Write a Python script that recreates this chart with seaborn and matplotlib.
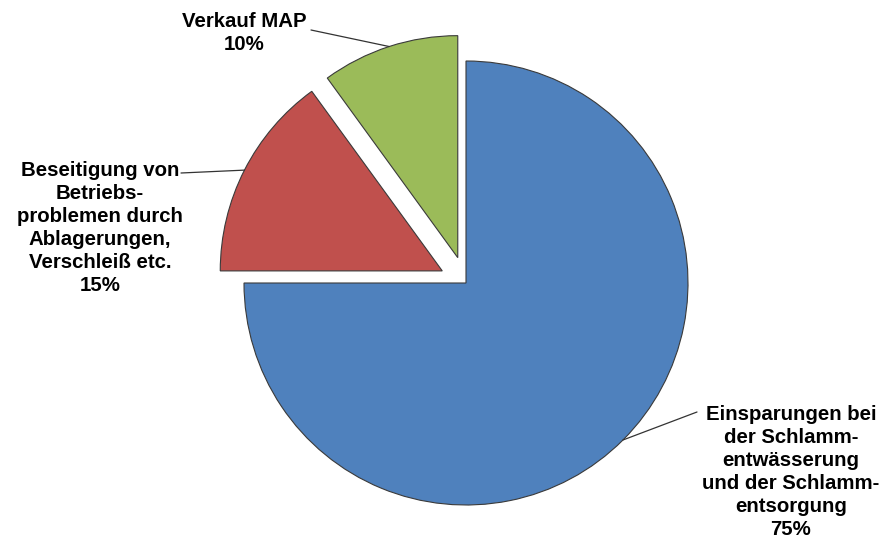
import numpy as np
import matplotlib
matplotlib.use('Agg')
import matplotlib.pyplot as plt
import seaborn as sns

# --------------chart data--------------
categories = ['Einsparungen bei\nder Schlamm-\nentwässerung\nund der Schlamm-\nentsorgung',
              'Beseitigung von\nBetriebs-\nproblemen durch\nAblagerungen,\nVerschleiß etc.',
              'Verkauf MAP']
shares = [75, 15, 10]
explode = [0, 0.12, 0.12]
colours = ['#4F81BD', '#C0504D', '#9BBB59']

# label block centres and leader line starts (pixel positions, top-left origin)
label_pos = [(791, 472), (100, 228), (244, 33)]
leader_start = [(697, 412), (181, 173), (311, 30)]

W, H = 887, 543
sns.set_theme(style='white')
plt.rcParams['font.family'] = ['Liberation Sans', 'DejaVu Sans']

fig = plt.figure(figsize=(W / 100, H / 100), dpi=100)
ax = fig.add_axes([0, 0, 1, 1])

wedges, _ = ax.pie(shares, explode=explode, colors=colours, startangle=90,
                   counterclock=False, radius=1,
                   wedgeprops=dict(edgecolor='#3a3a3a', linewidth=0.8))

# pie centre sits at pixel (466, 283), radius 222 px
cx, cy, rad = 466, 283, 222
ax.set_xlim(-cx / rad, (W - cx) / rad)
ax.set_ylim((cy - H) / rad, cy / rad)
ax.set_aspect('auto')
ax.axis('off')


def frac(p):
    return p[0] / W, 1 - p[1] / H


for w, cat, share, lp, ls in zip(wedges, categories, shares, label_pos, leader_start):
    mid = np.deg2rad((w.theta1 + w.theta2) / 2)
    tip = (w.center[0] + w.r * np.cos(mid), w.center[1] + w.r * np.sin(mid))
    ax.annotate('', xy=tip, xycoords='data', xytext=frac(ls),
                textcoords='axes fraction',
                arrowprops=dict(arrowstyle='-', color='#333333', lw=0.9,
                                shrinkA=0, shrinkB=0))
    ax.text(*frac(lp), f'{cat}\n{share}%', transform=ax.transAxes,
            ha='center', va='center', multialignment='center',
            fontsize=14.7, fontweight='bold', color='black', linespacing=1.27)

fig.savefig('out.png', dpi=100, facecolor='white')
